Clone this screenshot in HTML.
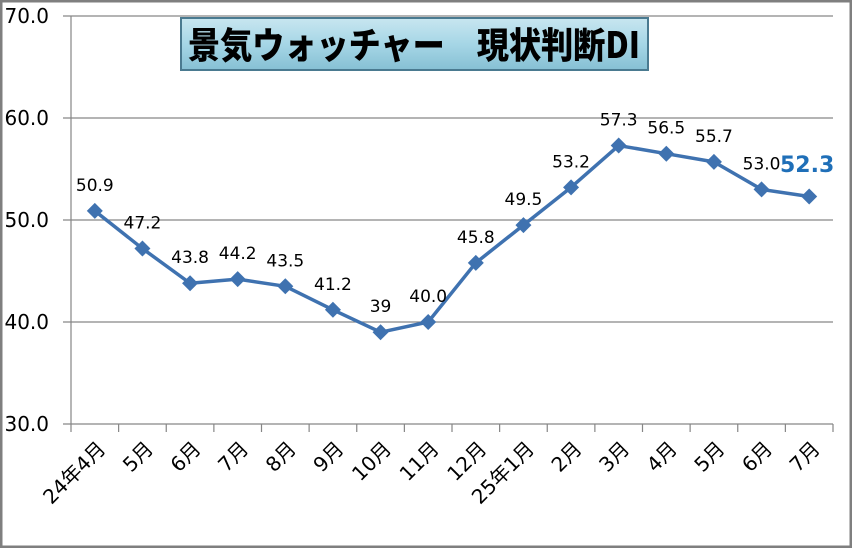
<!DOCTYPE html>
<html><head><meta charset="utf-8"><style>
html,body{margin:0;padding:0;background:#fff}
svg{display:block;font-family:"DejaVu Sans","Noto Sans CJK JP",sans-serif}
</style></head><body>
<svg width="852" height="548" viewBox="0 0 852 548" xmlns="http://www.w3.org/2000/svg">
<defs>
<linearGradient id="tg" x1="0" y1="0" x2="0" y2="1">
<stop offset="0" stop-color="#c8e6f0"/><stop offset="0.5" stop-color="#a6d6e6"/><stop offset="1" stop-color="#86c0d4"/>
</linearGradient>
</defs>
<rect x="1" y="1" width="850" height="546" fill="#fff" stroke="#7f7f7f" stroke-width="3"/>
<g stroke="#868686" stroke-width="1.2">
<line x1="63" y1="16" x2="833" y2="16"/>
<line x1="63" y1="118" x2="833" y2="118"/>
<line x1="63" y1="220" x2="833" y2="220"/>
<line x1="63" y1="322" x2="833" y2="322"/>
<line x1="63" y1="424" x2="833" y2="424"/>
<line x1="71" y1="16" x2="71" y2="424"/>
</g>
<g stroke="#868686" stroke-width="1.2" id="ticks"></g>
<g font-size="20" fill="#000" text-anchor="end">
<text x="49" y="23">70.0</text>
<text x="49" y="125">60.0</text>
<text x="49" y="227">50.0</text>
<text x="49" y="329">40.0</text>
<text x="49" y="431">30.0</text>
</g>
<rect x="181" y="18" width="467" height="52" fill="url(#tg)" stroke="#4a7a90" stroke-width="2"/>
<text x="188" y="58" textLength="452" lengthAdjust="spacingAndGlyphs" font-size="36" font-weight="900" fill="#000" font-family="'Noto Sans CJK JP','WenQuanYi Zen Hei',sans-serif">景気ウォッチャー　現状判断DI</text>
<g id="chart"></g>
<script>
var v=[50.9,47.2,43.8,44.2,43.5,41.2,39,40.0,45.8,49.5,53.2,57.3,56.5,55.7,53.0,52.3];
var lab=["50.9","47.2","43.8","44.2","43.5","41.2","39","40.0","45.8","49.5","53.2","57.3","56.5","55.7","53.0",""];
var cats=["24年4月","5月","6月","7月","8月","9月","10月","11月","12月","25年1月","2月","3月","4月","5月","6月","7月"];
var ns="http://www.w3.org/2000/svg",g=document.getElementById("chart"),t=document.getElementById("ticks");
function el(n,a,p,txt){var e=document.createElementNS(ns,n);for(var k in a)e.setAttribute(k,a[k]);if(txt)e.textContent=txt;(p||g).appendChild(e);return e;}
var X=function(i){return 71+47.625*(i+0.5)},Y=function(val){return 424-(val-30)*10.2};
for(var i=0;i<=16;i++){var x=71+47.625*i;el("line",{x1:x,y1:424,x2:x,y2:432},t);}
var pts=v.map(function(val,i){return X(i)+","+Y(val)}).join(" ");
el("polyline",{points:pts,fill:"none",stroke:"#3f72b0","stroke-width":3.5,"stroke-linejoin":"round"});
v.forEach(function(val,i){var x=X(i),y=Y(val);
el("polygon",{points:(x)+","+(y-8)+" "+(x+8)+","+y+" "+x+","+(y+8)+" "+(x-8)+","+y,fill:"#3f72b0"});
if(lab[i])el("text",{x:x,y:y-20,"text-anchor":"middle","font-size":17,fill:"#000"},g,lab[i]);
el("text",{x:x+12,y:450,"text-anchor":"end","font-size":20,fill:"#000",transform:"rotate(-45 "+(x+12)+" 450)"},g,cats[i]);
});
el("text",{x:780,y:172,"font-size":22,"font-weight":"bold",fill:"#1f6fb8"},g,"52.3");
</script>
</svg>
</body></html>
